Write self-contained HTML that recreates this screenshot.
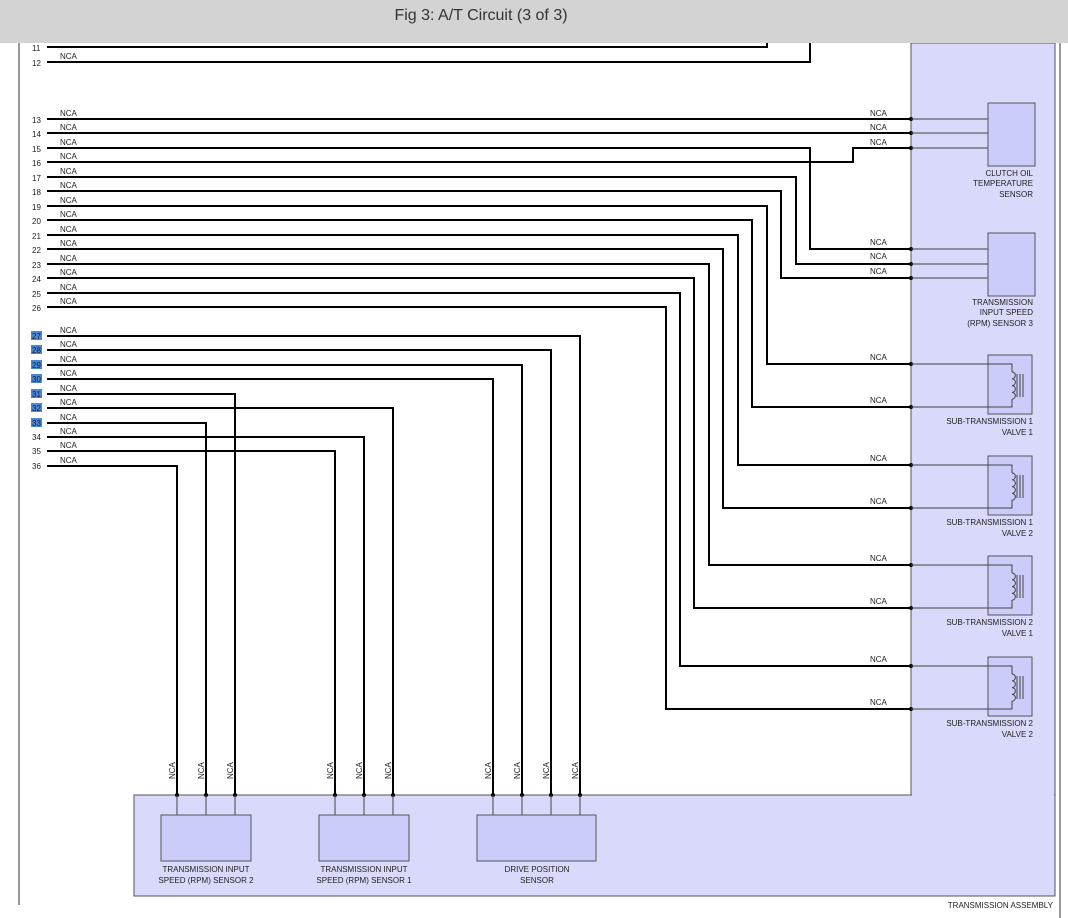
<!DOCTYPE html>
<html><head><meta charset="utf-8"><style>
body{margin:0;background:#fff;width:1068px;height:918px;overflow:hidden}
svg{display:block}
text{font-family:"Liberation Sans",sans-serif;font-size:8px;fill:#222}
.w{stroke:#000;stroke-width:2;fill:none}
.t{stroke:#444;stroke-width:1;fill:none}
.n{font-size:8px}
</style></head><body>
<svg width="1068" height="918" viewBox="0 0 1068 918">
<rect x="911" y="43" width="144" height="853" fill="#d9d9fb" stroke="#555"/>
<rect x="134" y="795" width="921" height="101" fill="#d9d9fb" stroke="#555"/>
<rect x="912" y="790" width="142" height="10" fill="#d9d9fb"/>
<line x1="1060" y1="43" x2="1060" y2="918" stroke="#999" stroke-width="2"/>
<line x1="19" y1="43" x2="19" y2="905" stroke="#333" stroke-width="1"/>
<rect x="0" y="0" width="1068" height="43" fill="#d3d3d3"/>
<text x="481" y="20" style="font-size:16px;fill:#333" text-anchor="middle">Fig 3: A/T Circuit (3 of 3)</text>

<!-- row numbers -->
<g text-anchor="start">
<text x="32" y="51">11</text><text x="32" y="66">12</text>
<text x="32" y="123">13</text><text x="32" y="137">14</text><text x="32" y="152">15</text><text x="32" y="166">16</text>
<text x="32" y="181">17</text><text x="32" y="195">18</text><text x="32" y="210">19</text><text x="32" y="224">20</text>
<text x="32" y="239">21</text><text x="32" y="253">22</text><text x="32" y="268">23</text><text x="32" y="282">24</text>
<text x="32" y="297">25</text><text x="32" y="311">26</text>
</g>
<g fill="#4a86d8">
<rect x="31" y="331" width="11" height="9"/><rect x="31" y="345" width="11" height="9"/><rect x="31" y="360" width="11" height="9"/>
<rect x="31" y="374" width="11" height="9"/><rect x="31" y="389" width="11" height="9"/><rect x="31" y="403" width="11" height="9"/><rect x="31" y="418" width="11" height="9"/>
</g>
<text x="32" y="339">27</text><text x="32" y="353">28</text><text x="32" y="368">29</text><text x="32" y="382">30</text>
<text x="32" y="397">31</text><text x="32" y="411">32</text><text x="32" y="426">33</text><text x="32" y="440">34</text>
<text x="32" y="454">35</text><text x="32" y="469">36</text>

<!-- NCA left labels -->
<g>
<text x="60" y="59">NCA</text>
<text x="60" y="116">NCA</text><text x="60" y="130">NCA</text><text x="60" y="145">NCA</text><text x="60" y="159">NCA</text>
<text x="60" y="174">NCA</text><text x="60" y="188">NCA</text><text x="60" y="203">NCA</text><text x="60" y="217">NCA</text>
<text x="60" y="232">NCA</text><text x="60" y="246">NCA</text><text x="60" y="261">NCA</text><text x="60" y="275">NCA</text>
<text x="60" y="290">NCA</text><text x="60" y="304">NCA</text>
<text x="60" y="333">NCA</text><text x="60" y="347">NCA</text><text x="60" y="362">NCA</text><text x="60" y="376">NCA</text>
<text x="60" y="391">NCA</text><text x="60" y="405">NCA</text><text x="60" y="420">NCA</text><text x="60" y="434">NCA</text>
<text x="60" y="448">NCA</text><text x="60" y="463">NCA</text>
</g>

<!-- wires -->
<g class="w">
<polyline points="47,47 767,47 767,43"/>
<polyline points="47,62 810,62 810,43"/>
<polyline points="47,119 911,119"/>
<polyline points="47,133 911,133"/>
<polyline points="47,148 810,148 810,249 911,249"/>
<polyline points="47,162 853,162 853,148 911,148"/>
<polyline points="47,177 796,177 796,264 911,264"/>
<polyline points="47,191 781,191 781,278 911,278"/>
<polyline points="47,206 767,206 767,364 911,364"/>
<polyline points="47,220 752,220 752,407 911,407"/>
<polyline points="47,235 738,235 738,465 911,465"/>
<polyline points="47,249 723,249 723,508 911,508"/>
<polyline points="47,264 709,264 709,565 911,565"/>
<polyline points="47,278 694,278 694,608 911,608"/>
<polyline points="47,293 680,293 680,666 911,666"/>
<polyline points="47,307 666,307 666,709 911,709"/>
<polyline points="47,336 580,336 580,795"/>
<polyline points="47,350 551,350 551,795"/>
<polyline points="47,365 522,365 522,795"/>
<polyline points="47,379 493,379 493,795"/>
<polyline points="47,394 235,394 235,795"/>
<polyline points="47,408 393,408 393,795"/>
<polyline points="47,423 206,423 206,795"/>
<polyline points="47,437 364,437 364,795"/>
<polyline points="47,451 335,451 335,795"/>
<polyline points="47,466 177,466 177,795"/>
</g>
<!-- dots -->
<g fill="#000">
<circle cx="911" cy="119" r="2"/><circle cx="911" cy="133" r="2"/><circle cx="911" cy="148" r="2"/>
<circle cx="911" cy="249" r="2"/><circle cx="911" cy="264" r="2"/><circle cx="911" cy="278" r="2"/>
<circle cx="911" cy="364" r="2"/><circle cx="911" cy="407" r="2"/><circle cx="911" cy="465" r="2"/><circle cx="911" cy="508" r="2"/>
<circle cx="911" cy="565" r="2"/><circle cx="911" cy="608" r="2"/><circle cx="911" cy="666" r="2"/><circle cx="911" cy="709" r="2"/>
<circle cx="177" cy="795" r="2"/><circle cx="206" cy="795" r="2"/><circle cx="235" cy="795" r="2"/>
<circle cx="335" cy="795" r="2"/><circle cx="364" cy="795" r="2"/><circle cx="393" cy="795" r="2"/>
<circle cx="493" cy="795" r="2"/><circle cx="522" cy="795" r="2"/><circle cx="551" cy="795" r="2"/><circle cx="580" cy="795" r="2"/>
</g>
<!-- right NCA labels -->
<g>
<text x="870" y="116">NCA</text><text x="870" y="130">NCA</text><text x="870" y="145">NCA</text>
<text x="870" y="245">NCA</text><text x="870" y="259">NCA</text><text x="870" y="274">NCA</text>
<text x="870" y="360">NCA</text><text x="870" y="403">NCA</text><text x="870" y="461">NCA</text><text x="870" y="504">NCA</text>
<text x="870" y="561">NCA</text><text x="870" y="604">NCA</text><text x="870" y="662">NCA</text><text x="870" y="705">NCA</text>
</g>
<!-- rotated bottom NCA -->
<g>
<text transform="translate(175,779) rotate(-90)">NCA</text>
<text transform="translate(204,779) rotate(-90)">NCA</text>
<text transform="translate(233,779) rotate(-90)">NCA</text>
<text transform="translate(333,779) rotate(-90)">NCA</text>
<text transform="translate(362,779) rotate(-90)">NCA</text>
<text transform="translate(391,779) rotate(-90)">NCA</text>
<text transform="translate(491,779) rotate(-90)">NCA</text>
<text transform="translate(520,779) rotate(-90)">NCA</text>
<text transform="translate(549,779) rotate(-90)">NCA</text>
<text transform="translate(578,779) rotate(-90)">NCA</text>
</g>

<!-- right components -->
<g class="t">
<line x1="911" y1="119" x2="988" y2="119"/><line x1="911" y1="133" x2="988" y2="133"/><line x1="911" y1="148" x2="988" y2="148"/>
<line x1="911" y1="249" x2="988" y2="249"/><line x1="911" y1="264" x2="988" y2="264"/><line x1="911" y1="278" x2="988" y2="278"/>
</g>
<rect x="988" y="103" width="47" height="63" fill="#ccccfa" stroke="#555"/>
<rect x="988" y="233" width="47" height="63" fill="#ccccfa" stroke="#555"/>

<g id="v1">
<rect x="988" y="355" width="44" height="59" fill="#ccccfa" stroke="#555"/>
<polyline class="t" points="911,364 1012,364 1012,372"/>
<polyline class="t" points="911,407 1012,407 1012,399"/>
<path class="t" d="M1012,372 a3.4,3.4 0 0 1 0,6.8 a3.4,3.4 0 0 1 0,6.8 a3.4,3.4 0 0 1 0,6.8 a3.4,3.4 0 0 1 0,6.8"/>
<line class="t" x1="1017" y1="374" x2="1017" y2="397"/><line class="t" x1="1020" y1="374" x2="1020" y2="397"/><line class="t" x1="1023" y1="374" x2="1023" y2="397"/>
</g>
<use href="#v1" transform="translate(0,101)"/>
<use href="#v1" transform="translate(0,201)"/>
<use href="#v1" transform="translate(0,302)"/>

<g text-anchor="end">
<text x="1033" y="176">CLUTCH OIL</text><text x="1033" y="186">TEMPERATURE</text><text x="1033" y="197">SENSOR</text>
<text x="1033" y="305">TRANSMISSION</text><text x="1033" y="315">INPUT SPEED</text><text x="1033" y="326">(RPM) SENSOR 3</text>
<text x="1033" y="424">SUB-TRANSMISSION 1</text><text x="1033" y="435">VALVE 1</text>
<text x="1033" y="525">SUB-TRANSMISSION 1</text><text x="1033" y="536">VALVE 2</text>
<text x="1033" y="625">SUB-TRANSMISSION 2</text><text x="1033" y="636">VALVE 1</text>
<text x="1033" y="726">SUB-TRANSMISSION 2</text><text x="1033" y="737">VALVE 2</text>
<text x="1053" y="908">TRANSMISSION ASSEMBLY</text>
</g>

<!-- bottom components -->
<g class="t">
<line x1="177" y1="795" x2="177" y2="815"/><line x1="206" y1="795" x2="206" y2="815"/><line x1="235" y1="795" x2="235" y2="815"/>
<line x1="335" y1="795" x2="335" y2="815"/><line x1="364" y1="795" x2="364" y2="815"/><line x1="393" y1="795" x2="393" y2="815"/>
<line x1="493" y1="795" x2="493" y2="815"/><line x1="522" y1="795" x2="522" y2="815"/><line x1="551" y1="795" x2="551" y2="815"/><line x1="580" y1="795" x2="580" y2="815"/>
</g>
<rect x="161" y="815" width="90" height="46" fill="#ccccfa" stroke="#555"/>
<rect x="319" y="815" width="90" height="46" fill="#ccccfa" stroke="#555"/>
<rect x="477" y="815" width="119" height="46" fill="#ccccfa" stroke="#555"/>
<g text-anchor="middle">
<text x="206" y="872">TRANSMISSION INPUT</text><text x="206" y="883">SPEED (RPM) SENSOR 2</text>
<text x="364" y="872">TRANSMISSION INPUT</text><text x="364" y="883">SPEED (RPM) SENSOR 1</text>
<text x="537" y="872">DRIVE POSITION</text><text x="537" y="883">SENSOR</text>
</g>
</svg>
</body></html>
